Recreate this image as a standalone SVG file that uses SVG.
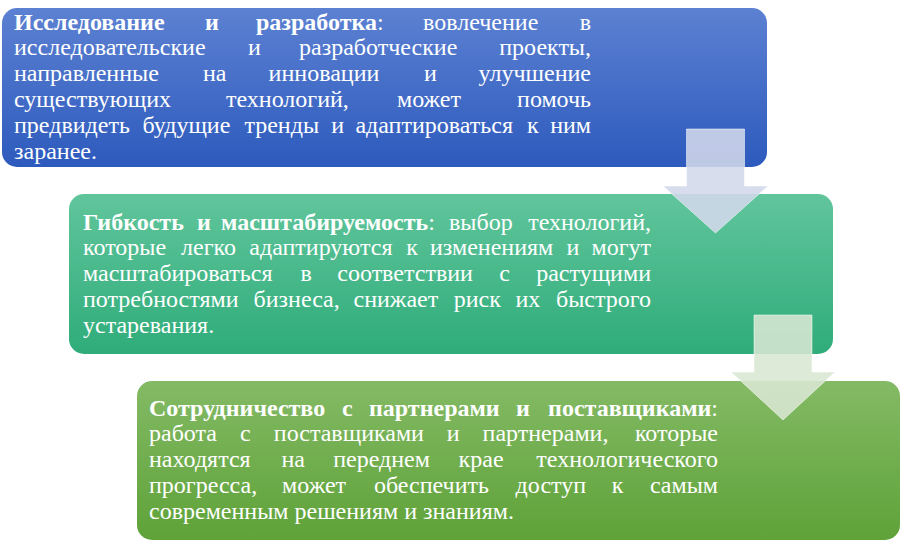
<svg xmlns="http://www.w3.org/2000/svg" width="902" height="541" viewBox="0 0 902 541">
<style>
.t{font-family:"Liberation Serif","Times New Roman",serif;font-size:24px;fill:#ffffff}
.b{font-weight:bold}
.arrow1{fill:#d3d8ec;fill-opacity:0.88;stroke:#ffffff;stroke-opacity:0.5;stroke-width:1}
.arrow2{fill:#d9e7d3;fill-opacity:0.88;stroke:#ffffff;stroke-opacity:0.5;stroke-width:1}
</style>
<defs>
<linearGradient id="g1" x1="0" y1="0" x2="0" y2="1"><stop offset="0" stop-color="#5c81d2"/><stop offset="1" stop-color="#2d5abd"/></linearGradient>
<linearGradient id="g2" x1="0" y1="0" x2="0" y2="1"><stop offset="0" stop-color="#61c59c"/><stop offset="1" stop-color="#2fac7a"/></linearGradient>
<linearGradient id="g3" x1="0" y1="0" x2="0" y2="1"><stop offset="0" stop-color="#84ba65"/><stop offset="1" stop-color="#5ea238"/></linearGradient>
</defs>
<g id="node-research">
<rect x="2" y="8" width="765" height="159" rx="15" fill="url(#g1)"/>
<text class="t" y="29.5"><tspan class="b" x="14">Исследование </tspan><tspan class="b" x="205">и </tspan><tspan class="b" x="256">разработка</tspan><tspan>: </tspan><tspan x="423">вовлечение </tspan><tspan x="591" text-anchor="end">в</tspan></text>
<text class="t" y="55.3"><tspan x="14">исследовательские </tspan><tspan x="248">и </tspan><tspan x="299">разработческие </tspan><tspan x="591" text-anchor="end">проекты,</tspan></text>
<text class="t" y="81.1"><tspan x="14">направленные </tspan><tspan x="203">на </tspan><tspan x="268.6">инновации </tspan><tspan x="424">и </tspan><tspan x="591" text-anchor="end">улучшение</tspan></text>
<text class="t" y="106.9"><tspan x="14">существующих </tspan><tspan x="226">технологий, </tspan><tspan x="397">может </tspan><tspan x="591" text-anchor="end">помочь</tspan></text>
<text class="t" y="132.7"><tspan x="14">предвидеть </tspan><tspan x="142.4">будущие </tspan><tspan x="244.4">тренды </tspan><tspan x="331.2">и </tspan><tspan x="355.4">адаптироваться </tspan><tspan x="527">к </tspan><tspan x="591" text-anchor="end">ним</tspan></text>
<text class="t" x="14" y="158.5">заранее.</text>
</g>
<g id="node-flex">
<rect x="69" y="194" width="764" height="160" rx="15" fill="url(#g2)"/>
<text class="t" y="229.5"><tspan class="b" x="83">Гибкость </tspan><tspan class="b" x="197">и </tspan><tspan class="b" x="221">масштабируемость</tspan><tspan>: </tspan><tspan x="449">выбор </tspan><tspan x="651" text-anchor="end">технологий,</tspan></text>
<text class="t" y="255.3"><tspan x="83">которые </tspan><tspan x="181">легко </tspan><tspan x="249.3">адаптируются </tspan><tspan x="406.2">к </tspan><tspan x="430">изменениям </tspan><tspan x="566.4">и </tspan><tspan x="651" text-anchor="end">могут</tspan></text>
<text class="t" y="281.1"><tspan x="83">масштабироваться </tspan><tspan x="300.4">в </tspan><tspan x="337.3">соответствии </tspan><tspan x="499.2">с </tspan><tspan x="651" text-anchor="end">растущими</tspan></text>
<text class="t" y="306.9"><tspan x="83">потребностями </tspan><tspan x="253.5">бизнеса, </tspan><tspan x="353.5">снижает </tspan><tspan x="453.7">риск </tspan><tspan x="515.4">их </tspan><tspan x="651" text-anchor="end">быстрого</tspan></text>
<text class="t" x="83" y="332.7">устаревания.</text>
</g>
<g id="node-partners">
<rect x="137" y="381" width="763" height="159" rx="15" fill="url(#g3)"/>
<text class="t" y="415.5"><tspan class="b" x="149">Сотрудничество </tspan><tspan class="b" x="342">с </tspan><tspan class="b" x="369">партнерами </tspan><tspan class="b" x="516">и </tspan><tspan class="b" x="718" text-anchor="end">поставщиками</tspan><tspan>:</tspan></text>
<text class="t" y="441.3"><tspan x="149">работа </tspan><tspan x="240.1">с </tspan><tspan x="273.8">поставщиками </tspan><tspan x="446.8">и </tspan><tspan x="482.6">партнерами, </tspan><tspan x="718" text-anchor="end">которые</tspan></text>
<text class="t" y="467.1"><tspan x="149">находятся </tspan><tspan x="281.5">на </tspan><tspan x="333.2">переднем </tspan><tspan x="458.6">крае </tspan><tspan x="718" text-anchor="end">технологического</tspan></text>
<text class="t" y="492.9"><tspan x="149">прогресса, </tspan><tspan x="282.1">может </tspan><tspan x="373.9">обеспечить </tspan><tspan x="515.6">доступ </tspan><tspan x="611.8">к </tspan><tspan x="718" text-anchor="end">самым</tspan></text>
<text class="t" x="149" y="518.7">современным решениям и знаниям.</text>
</g>
<g id="connectors">
<path class="arrow1" d="M686.5,129 H744.5 V186 H768 L715.5,233 L663,186 H686.5 Z"/>
<path class="arrow2" d="M754,315 H812 V372 H835 L783,420 L731,372 H754 Z"/>
</g>
</svg>
